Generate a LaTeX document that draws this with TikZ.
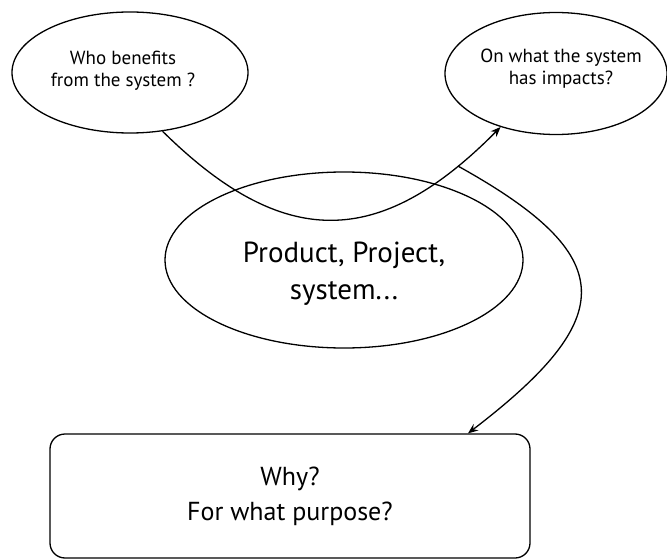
\documentclass[tikz,border=0pt]{standalone}
\usepackage{fontspec}
\setmainfont{PT Sans}
\usetikzlibrary{shapes.geometric,arrows.meta}
\begin{document}
\begin{tikzpicture}[x=1pt,y=-1pt,
  ell/.style={draw,ellipse,line width=1.3pt,inner sep=0pt},
  lbl/.style={align=center,inner sep=0pt},
  conn/.style={line width=1.3pt,-{Stealth[length=10pt,width=8pt]}}]
\useasboundingbox (0,0) rectangle (667,559);
\node[ell,minimum width=236pt,minimum height=121pt] (who) at (130,72.5) {};
\node[ell,minimum width=222pt,minimum height=122pt] (imp) at (556,73.5) {};
\node[ell,minimum width=358pt,minimum height=176pt] (prod) at (344,260) {};
\node[draw,line width=1.3pt,rounded corners=15pt,minimum width=480pt,minimum height=124pt,inner sep=0pt] (why) at (290,496) {};
\node[lbl,font=\fontsize{19}{22}\selectfont] (whot) at (123,71) {Who benefits\\from the system ?};
\node[lbl,font=\fontsize{19}{22}\selectfont] (impt) at (561,69) {On what the system\\has impacts?};
\node[lbl,font=\fontsize{29}{37}\selectfont] (prodt) at (344,274) {Product, Project,\\system...};
\node[lbl,font=\fontsize{26}{35}\selectfont] (whyt) at (290,496) {Why?\\For what purpose?};
\draw[conn] (who.-61) .. controls (283,250) and (379,250) .. coordinate[pos=0.88] (br) (imp.-136);
\draw[conn] (br) .. controls (620,256) and (620,317) .. (why.north -| 468,434);
\end{tikzpicture}
\end{document}
